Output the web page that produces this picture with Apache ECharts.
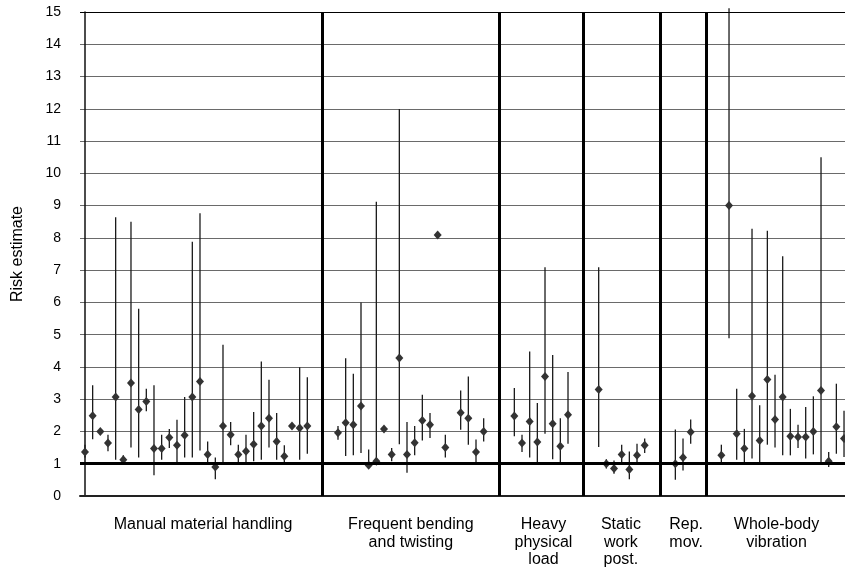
<!DOCTYPE html>
<html>
<head>
<meta charset="utf-8">
<script src="https://cdn.jsdelivr.net/npm/echarts@6/dist/echarts.min.js"></script>
<style>
html,body{margin:0;padding:0;background:#fff;}
#chart{width:845px;height:568px;}
</style>
</head>
<body>
<div id="chart"></div>
<script>
// Each entry: [estimate, lower CI, upper CI]  (null CI = no bar drawn)
const manualHandling = [
  [1.36,1.19,1.59],[2.49,1.76,3.43],[2.00,null,null],[1.64,1.39,1.90],[3.07,1.12,8.64],
  [1.12,1.02,1.26],[3.50,1.50,8.50],[2.68,1.19,5.80],[2.93,2.63,3.32],[1.47,0.64,3.43],
  [1.47,1.12,1.90],[1.81,1.49,2.08],[1.57,1.00,2.36],[1.88,1.19,3.07],[3.07,1.19,7.88],
  [3.55,1.41,8.76],[1.29,1.00,1.69],[0.90,0.52,1.19],[2.17,1.00,4.69],[1.90,1.57,2.29],
  [1.29,1.05,1.59],[1.39,1.00,1.90],[1.60,1.08,2.60],[2.17,1.12,4.17],[2.41,1.50,3.60],
  [1.69,1.12,2.57],[1.23,1.00,1.57],[2.17,null,null],[2.11,1.12,3.99],[2.17,1.31,3.68]
];
const bendingTwisting = [
  [1.96,1.74,2.17],[2.27,1.24,4.27],[2.21,1.26,3.79],[2.79,1.33,6.00],[0.95,0.86,1.44],
  [1.08,1.05,9.12],[2.08,null,null],[1.29,1.08,1.49],[4.28,1.60,11.99],[1.29,0.72,2.29],
  [1.65,1.26,2.17],[2.34,1.72,3.14],[2.21,1.80,2.57],[8.09,null,null],[1.50,1.19,1.90],
  null,[2.58,2.05,3.27],[2.41,1.59,3.70],[1.36,1.05,1.75],[2.00,1.69,2.41]
];
const heavyLoad = [
  [2.48,1.85,3.35],[1.64,1.36,1.90],[2.31,1.19,4.48],[1.67,1.05,2.88],
  [3.70,1.93,7.09],[2.24,1.14,4.37],[1.54,1.00,2.41],[2.52,1.62,3.84]
];
const staticPosture = [
  [3.30,1.52,7.09],[1.00,0.85,1.14],[0.85,0.69,1.10],[1.29,1.00,1.59],
  [0.82,0.52,1.38],[1.26,1.00,1.62],[1.57,1.33,1.78]
];
const repetitiveMov = [
  [1.00,0.50,2.06],[1.19,0.79,1.78],[1.98,1.62,2.37]
];
const wholeBodyVib = [
  [1.26,1.00,1.59],[9.00,4.89,15.12],[1.93,1.12,3.32],[1.47,1.05,2.08],[3.10,1.16,8.28],
  [1.72,1.05,2.81],[3.61,1.59,8.22],[2.37,1.50,3.76],[3.07,1.26,7.43],[1.85,1.26,2.70],
  [1.83,1.49,2.21],[1.83,1.16,2.76],[2.00,1.29,3.09],[3.27,1.00,10.50],[1.08,0.90,1.36],
  [2.15,1.31,3.48],[1.78,1.21,2.64]
];
const groupLabels = [
  'Manual material handling',
  'Frequent bending\nand twisting',
  'Heavy\nphysical\nload',
  'Static\nwork\npost.',
  'Rep.\nmov.',
  'Whole-body\nvibration'
];
const groups = [manualHandling, bendingTwisting, heavyLoad, staticPosture, repetitiveMov, wholeBodyVib];
const yTicks = [0,1,2,3,4,5,6,7,8,9,10,11,12,13,14,15];

// Lay groups out on consecutive slots, with 3 empty slots between groups
const GAP = 3;
const points = [], bars = [], separators = [];
let slot = 0;
groups.forEach((g, gi) => {
  g.forEach(d => {
    if (d) {
      points.push([slot, d[0]]);
      if (d[1] != null && d[2] != null) bars.push([slot, d[1], d[2]]);
    }
    slot++;
  });
  if (gi < groups.length - 1) {
    separators.push(slot + (GAP - 1) / 2);
    slot += GAP;
  }
});
// where each group caption is anchored along the x axis (slot units)
const captionAnchor = [15.4, 42.5, 59.8, 69.9, 78.4, 90.2];

const FONT = '"Liberation Sans", Arial, Helvetica, sans-serif';
const chart = echarts.init(document.getElementById('chart'), null, {renderer: 'canvas'});
chart.setOption({
  animation: false,
  backgroundColor: '#fff',
  grid: {left: 80, right: -30, top: 12, bottom: 72, containLabel: false, outerBoundsMode: 'none'},
  xAxis: {
    type: 'value',
    min: -0.65,
    max: 103.04,
    axisLine: {show: true, onZero: true, lineStyle: {color: '#222', width: 2}},
    axisTick: {show: false},
    splitLine: {show: false},
    axisLabel: {show: false}
  },
  yAxis: {
    type: 'value',
    min: yTicks[0],
    max: yTicks[yTicks.length - 1],
    interval: 1,
    name: 'Risk estimate',
    nameLocation: 'middle',
    nameRotate: 90,
    nameGap: 54,
    nameTextStyle: {fontFamily: FONT, fontSize: 16, color: '#000'},
    axisLine: {show: true, lineStyle: {color: '#111', width: 1.5}},
    axisTick: {show: false},
    axisLabel: {fontFamily: FONT, fontSize: 14, color: '#000', margin: 19},
    splitLine: {show: true, lineStyle: {color: '#6a6a6a', width: 1}}
  },
  series: [
    {
      type: 'scatter',
      data: [],
      silent: true,
      z: 1,
      markLine: {
        silent: true,
        symbol: 'none',
        label: {show: false},
        data: [
          {yAxis: 1, lineStyle: {color: '#000', width: 3, type: 'solid'}},
          {yAxis: 15, lineStyle: {color: '#000', width: 1, type: 'solid'}}
        ].concat(separators.map(s => ({xAxis: s, lineStyle: {color: '#000', width: 3, type: 'solid'}})))
      }
    },
    {
      type: 'custom',
      data: bars,
      clip: false,
      z: 2,
      encode: {x: 0, y: [1, 2]},
      renderItem: (params, api) => {
        const x = api.value(0);
        const a = api.coord([x, api.value(1)]);
        const b = api.coord([x, api.value(2)]);
        return {
          type: 'line',
          shape: {x1: a[0], y1: a[1], x2: b[0], y2: b[1]},
          style: {stroke: '#1a1a1a', lineWidth: 1.3}
        };
      }
    },
    {
      type: 'scatter',
      data: points,
      z: 3,
      symbol: 'diamond',
      symbolSize: [8, 9],
      itemStyle: {color: '#333', opacity: 1}
    },
    {
      type: 'custom',
      silent: true,
      clip: false,
      data: captionAnchor.map((x, i) => [x, 0, i]),
      encode: {x: 0, y: 1},
      renderItem: (params, api) => {
        const p = api.coord([api.value(0), api.value(1)]);
        return {
          type: 'text',
          x: p[0],
          y: p[1] + 20,
          style: {
            text: groupLabels[api.value(2)],
            align: 'center',
            verticalAlign: 'top',
            fontFamily: FONT,
            fontSize: 16,
            lineHeight: 17.5,
            fill: '#000'
          }
        };
      }
    }
  ]
});
</script>
</body>
</html>
